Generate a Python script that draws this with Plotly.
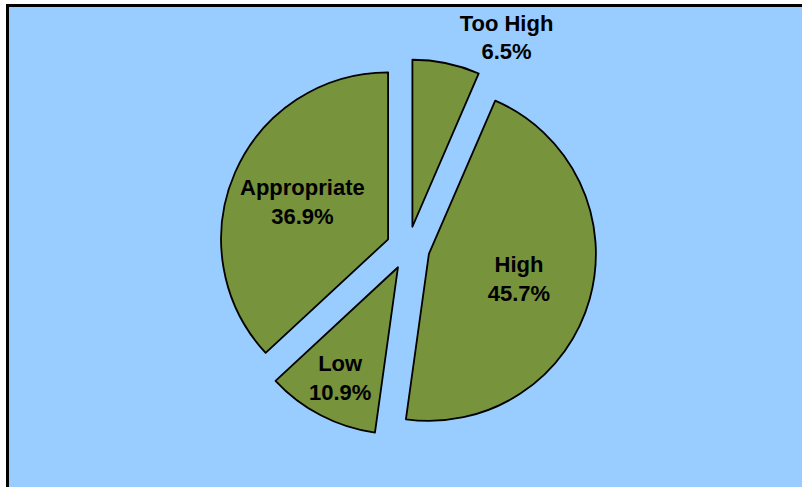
import plotly.graph_objects as go

labels = ["Too High", "High", "Low", "Appropriate"]
values = [6.5, 45.7, 10.9, 36.9]

W, H = 802, 487
cx, cy = 408, 248          # pie centre in figure pixels
r = 167                    # pie radius in pixels
pull = 0.13
half = r * (1 + pull)

dom = dict(x=[(2 * cx - W) / W, 1.0], y=[1 - (cy + half) / H, 1 - (cy - half) / H])
font = dict(family="Liberation Sans, Arial", size=22, color="black", weight="bold")

fig = go.Figure()
# visible slices
fig.add_trace(go.Pie(
    labels=labels, values=values, sort=False, direction="clockwise", rotation=0,
    pull=[pull] * 4,
    marker=dict(colors=["#77933C"] * 4, line=dict(color="black", width=1.8)),
    textinfo="none", showlegend=False, hoverinfo="skip", automargin=False,
    domain=dom,
))
# same pie, transparent, carrying the labels (small hole pushes inside labels outward)
fig.add_trace(go.Pie(
    labels=labels, values=values, sort=False, direction="clockwise", rotation=0,
    pull=[pull] * 4, hole=0.12,
    marker=dict(colors=["rgba(0,0,0,0)"] * 4, line=dict(width=0)),
    texttemplate="%{label}<br>%{percent:.1%}",
    textposition=["outside", "inside", "inside", "inside"],
    insidetextorientation="horizontal",
    textfont=font, outsidetextfont=font, insidetextfont=font,
    showlegend=False, hoverinfo="skip", automargin=False,
    domain=dom,
))

fig.update_layout(
    width=W, height=H,
    margin=dict(l=0, r=0, t=0, b=0, autoexpand=False),
    paper_bgcolor="white",
    shapes=[dict(type="rect", xref="paper", yref="paper", x0=7.5 / W, x1=1.05, y0=-0.05, y1=1 - 5.5 / H,
                 fillcolor="#99CCFF", line=dict(color="black", width=3), layer="below")],
)
fig.write_html("out.html",
               config={"displayModeBar": False, "staticPlot": True},
               post_script="document.body.style.margin='0';document.body.style.overflow='hidden';")
